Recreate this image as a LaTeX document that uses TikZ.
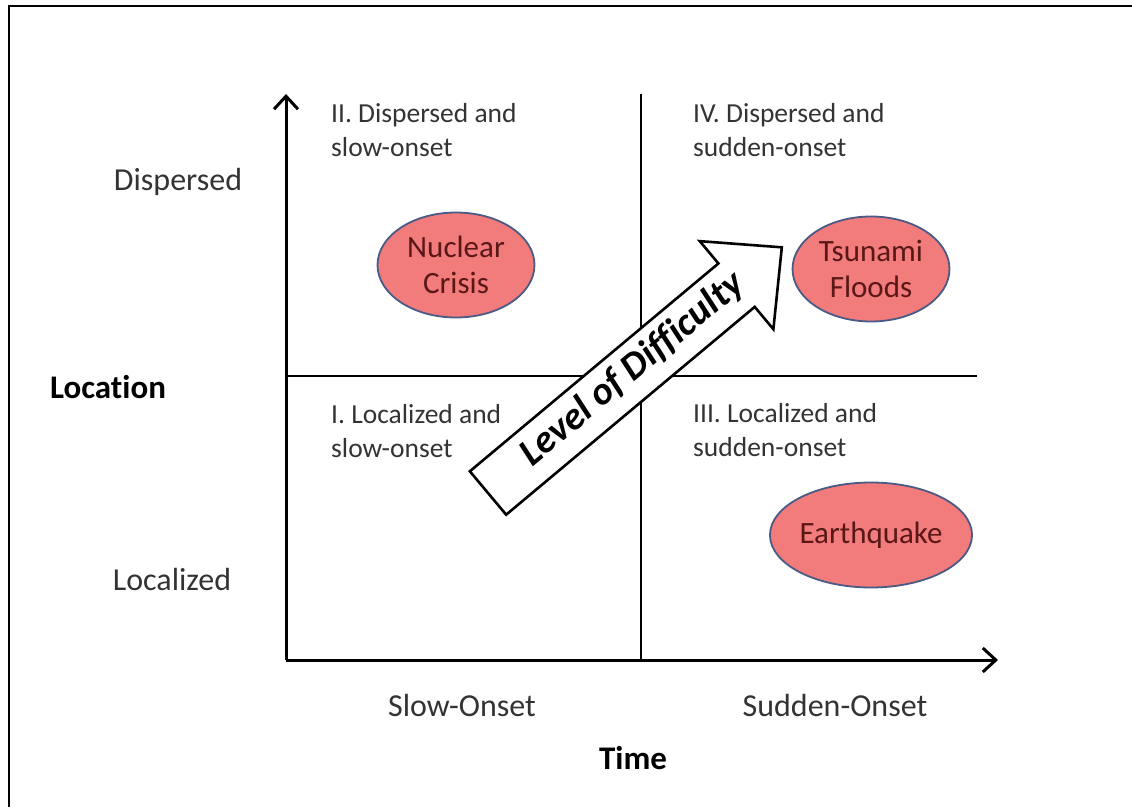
\documentclass[tikz,border=0pt]{standalone}
\usepackage{fontspec}
\setmainfont{Carlito}[Ligatures=NoCommon]
\usetikzlibrary{arrows.meta,shapes.geometric}

\definecolor{crisisfill}{HTML}{F27B7B}
\definecolor{crisisline}{HTML}{4A5A85}
\definecolor{crisistext}{HTML}{5A1717}
\definecolor{labeltext}{HTML}{333333}
\newcommand{\sz}[2]{\fontsize{#1}{#2}\selectfont}

\begin{document}
\begin{tikzpicture}[x=100pt,y=100pt,
		axis/.style={line width=3pt,-{Straight Barb[length=13pt,width=24pt,line width=3pt]}},
		divider/.style={line width=1.5pt},
		crisis/.style={ellipse, draw=crisisline, fill=crisisfill, line width=1.8pt, minimum width=157pt, minimum height=105pt, inner sep=0pt, align=center, text=crisistext, font=\sz{31}{36}},
		quad/.style={anchor=west, align=left, inner sep=0pt, text=labeltext, font=\sz{27.5}{34}},
		axislabel/.style={text=labeltext, font=\sz{32}{36}},
		axistitle/.style={font=\bfseries\sz{33}{38}},
		bigarrow/.style={draw, fill=white, line width=2.6pt, line join=miter}]
		\useasboundingbox (0,0) rectangle (11.32,8.07);
		\draw[line width=2.2pt] (0.09,0) -- (0.09,8.01) -- (11.32,8.01);

		% axes and quadrants
		\coordinate (O) at (2.86,1.47);
		\coordinate (ytop) at (2.86,7.13);
		\coordinate (xend) at (9.98,1.47);
		\coordinate (vtop) at (6.41,7.13);
		\coordinate (vbot) at (6.41,1.47);
		\coordinate (hleft) at (2.86,4.31);
		\coordinate (hright) at (9.77,4.31);

		\draw[divider] (vbot) -- (vtop);
		\draw[divider] (hleft) -- (hright);
		\draw[axis] (O) -- (ytop);
		\draw[axis] (O) -- (xend);

		\node[axislabel] (dispersed) at (1.78,6.25) {Dispersed};
		\node[axistitle] (location) at (1.08,4.20) {Location};
		\node[axislabel] (localized) at (1.72,2.27) {Localized};
		\node[axislabel] (slow) at (4.62,1.01) {Slow-Onset};
		\node[axislabel] (sudden) at (8.35,1.01) {Sudden-Onset};
		\node[axistitle] (time) at (6.33,0.49) {Time};

		\node[quad] (q2) at (3.31,6.77) {II. Dispersed and\\slow-onset};
		\node[quad] (q4) at (6.93,6.77) {IV. Dispersed and\\sudden-onset};
		\node[quad] (q1) at (3.31,3.76) {I. Localized and\\slow-onset};
		\node[quad] (q3) at (6.93,3.77) {III. Localized and\\sudden-onset};

		\node[crisis] (nuclear) at (4.56,5.42) {Nuclear\\Crisis};
		\node[crisis] (tsunami) at (8.71,5.38) {Tsunami\\Floods};
		\node[crisis] (quake) at (8.71,2.72) {Earthquake};

		% level of difficulty
		\begin{scope}[shift={(4.88,3.14)},rotate=39.9]
			\draw[bigarrow] (0,-0.283) -- (3.24,-0.283) -- (3.24,-0.574) -- (3.83,0) -- (3.24,0.574) -- (3.24,0.283) -- (0,0.283) -- cycle;
			\node[rotate=39.9, font=\bfseries\itshape\sz{39}{44}] (level) at (1.90,0.02) {Level of Difficulty};
		\end{scope}
	\end{tikzpicture}
\end{document}
